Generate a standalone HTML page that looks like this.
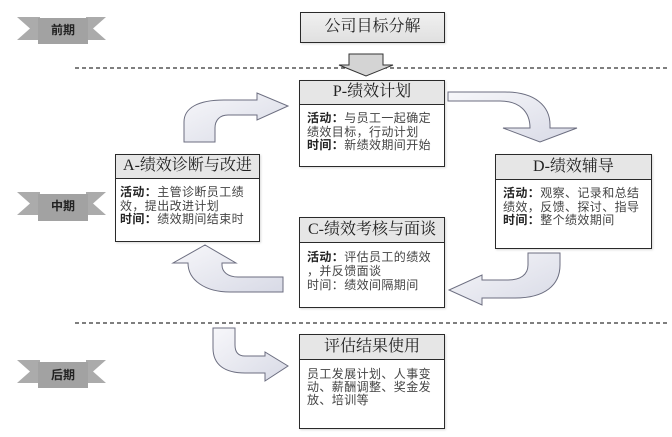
<!DOCTYPE html>
<html><head><meta charset="utf-8">
<style>
html,body{margin:0;padding:0;background:#fff;}
body{width:672px;height:437px;position:relative;overflow:hidden;font-family:"Liberation Sans","Noto Sans CJK SC",sans-serif;}
svg{position:absolute;left:0;top:0;}
.box{position:absolute;box-sizing:border-box;border:1.5px solid #2a2a2a;background:#fff;box-shadow:1px 1px 2px rgba(0,0,0,0.15);}
.hd{box-sizing:border-box;border-bottom:1.5px solid #2a2a2a;background:#e6e6e6;text-align:center;font-family:"Liberation Serif","Noto Serif CJK SC",serif;font-size:16px;color:#222;}
.bd{font-size:12px;line-height:13.5px;color:#444;letter-spacing:0.4px;padding:7px 0 0 7px;white-space:nowrap;}
.bd b{color:#222;font-weight:bold;}
.ban{position:absolute;font-size:12px;font-weight:bold;color:#222;width:50px;text-align:center;}
</style></head>
<body>
<svg width="672" height="437" viewBox="0 0 672 437">
<defs>
<linearGradient id="ag" x1="0" y1="0" x2="1" y2="1">
<stop offset="0" stop-color="#f7f7fa"/><stop offset="1" stop-color="#d8dae6"/>
</linearGradient>
</defs>
<!-- dashed lines -->
<line x1="75" y1="68" x2="668" y2="68" stroke="#333" stroke-width="1.2" stroke-dasharray="4 3"/>
<line x1="75" y1="323" x2="668" y2="323" stroke="#333" stroke-width="1.2" stroke-dasharray="4 3"/>
<!-- banners -->
<g fill="#ababab">
<polygon points="17,17 40,17 40,40 17,40 30,28.5"/>
<polygon points="86,17 106,17 93,28.5 106,40 86,40"/>
<rect x="38" y="18" width="50" height="26" fill="#a2a2a2"/>
<polygon points="17,192 40,192 40,215 17,215 30,203.5"/>
<polygon points="86,192 106,192 93,203.5 106,215 86,215"/>
<rect x="38" y="194" width="50" height="27" fill="#a2a2a2"/>
<polygon points="17,360 40,360 40,383 17,383 30,371.5"/>
<polygon points="86,360 106,360 93,371.5 106,383 86,383"/>
<rect x="38" y="362" width="50" height="26" fill="#a2a2a2"/>
</g>
<!-- small down arrow -->
<path d="M349,54 L383,54 L383,65 L393,65 L366,76 L339,65 L349,65 Z" fill="#d4d4d4" stroke="#333" stroke-width="1"/>
<!-- curved arrows -->
<g fill="url(#ag)" stroke="#6c6e80" stroke-width="1">
<path d="M184,142 L184,122 C184,108 198,100 224,100 L257,100 L257,93 L288,106 L257,120 L257,115 L228,115 C220,115 215,120 215,128 L215,142 Z"/>
<path d="M448,92 L505,92 C535,92 550,106 550,125 L550,128 L577,128 L540,142 L503,128 L530,128 C530,112 520,101 500,101 L448,101 Z"/>
<path d="M528,253 L528,265 C528,275 520,280 508,280 L482,280 L482,275 L449,290 L482,305 L482,298 L515,298 C545,298 560,285 560,265 L560,253 Z"/>
<path d="M283,277 L238,277 C228,277 222,272 222,265 L222,263 L236,263 L205,245 L173,263 L188,263 C188,280 205,292 230,292 L283,292 Z"/>
<path d="M213,328 L213,348 C213,365 225,373 245,373 L265,373 L265,381 L288,366 L265,352 L265,356 L245,356 C238,356 235,352 235,345 L235,328 Z"/>
</g>
</svg>

<div class="ban" style="left:38px;top:21px;">前期</div>
<div class="ban" style="left:38px;top:197px;">中期</div>
<div class="ban" style="left:38px;top:366px;">后期</div>

<div class="box" style="left:300px;top:12px;width:145px;height:31px;background:linear-gradient(#f0f0f0,#e0e0e0);">
<div style="text-align:center;font-family:'Liberation Serif','Noto Serif CJK SC',serif;font-size:16px;line-height:28px;color:#222;">公司目标分解</div>
</div>

<div class="box" style="left:299px;top:80px;width:146px;height:87px;">
<div class="hd" style="height:24px;line-height:22px;">P-绩效计划</div>
<div class="bd"><b>活动：</b>与员工一起确定<br>绩效目标，行动计划<br><b>时间：</b>新绩效期间开始</div>
</div>

<div class="box" style="left:115px;top:154px;width:145px;height:88px;">
<div class="hd" style="height:24px;line-height:22px;">A-绩效诊断与改进</div>
<div class="bd" style="padding-left:4px;"><b>活动：</b>主管诊断员工绩<br>效，提出改进计划<br><b>时间：</b>绩效期间结束时</div>
</div>

<div class="box" style="left:495px;top:154px;width:157px;height:95px;">
<div class="hd" style="height:25px;line-height:23px;">D-绩效辅导</div>
<div class="bd"><b>活动：</b>观察、记录和总结<br>绩效，反馈、探讨、指导<br><b>时间：</b>整个绩效期间</div>
</div>

<div class="box" style="left:299px;top:217px;width:146px;height:91px;">
<div class="hd" style="height:25px;line-height:23px;">C-绩效考核与面谈</div>
<div class="bd" style="line-height:14px;"><b>活动：</b>评估员工的绩效<br>，并反馈面谈<br>时间：绩效间隔期间</div>
</div>

<div class="box" style="left:299px;top:334px;width:146px;height:95px;">
<div class="hd" style="height:25px;line-height:23px;">评估结果使用</div>
<div class="bd" style="line-height:12.8px;padding-top:8px;">员工发展计划、人事变<br>动、薪酬调整、奖金发<br>放、培训等</div>
</div>
</body></html>
